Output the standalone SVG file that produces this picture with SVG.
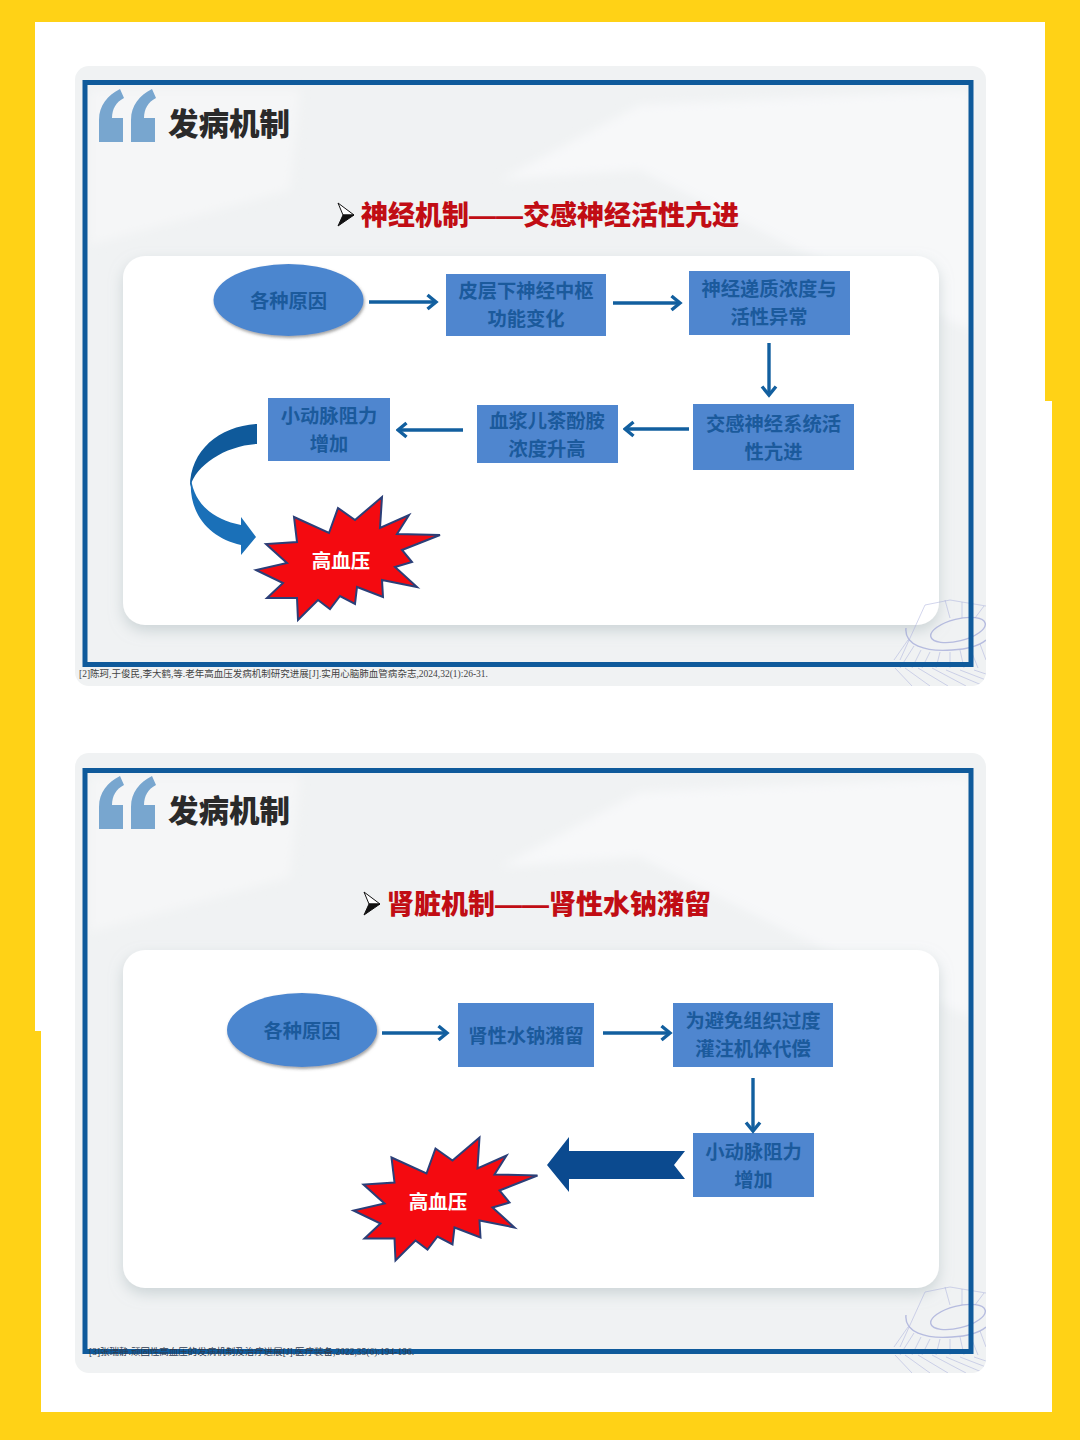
<svg xmlns="http://www.w3.org/2000/svg" xmlns:xlink="http://www.w3.org/1999/xlink" width="1080" height="1440" viewBox="0 0 1080 1440">
<style>
text{font-family:"Noto Sans CJK SC","Noto Sans",sans-serif;font-weight:700;text-anchor:middle}
.box{fill:#4f86cf}
.ell{fill:#4c86cf;filter:url(#ns)}
.bt{fill:#1b5a9c;font-size:19.3px;font-weight:700}
.wt{fill:#fff;font-size:19.5px}
.h1{fill:#2a2a2a;font-size:30.5px;text-anchor:start;font-weight:900}
.h2{fill:#c10d14;font-size:27px;text-anchor:start;font-weight:900}
.dash{font-family:"Liberation Sans",sans-serif;font-weight:700}
.cite{fill:#444;font-size:9.5px;font-weight:400;text-anchor:start;font-family:"Liberation Serif","Noto Sans CJK SC",serif}
.conn{stroke:#125f9f;stroke-width:3.4;fill:none;marker-end:url(#ah)}
.frame{fill:none;stroke:#0f5a9b;stroke-width:5}
.outer{fill:#f0f2f3}
.card{fill:#fff;filter:url(#cs)}
.q{fill:#78a6cf}
.burst{fill:#f40a10;stroke:#2b3f78;stroke-width:2}
.sp{fill:none;stroke:#a6abdb;stroke-width:.9;opacity:.55}
.sp2{fill:none;stroke:#8f97d2;stroke-width:1.4;opacity:.6}
</style>
<defs>
<marker id="ah" markerUnits="userSpaceOnUse" markerWidth="14" markerHeight="18" refX="11.5" refY="9" orient="auto"><path d="M3,2 L11.5,9 L3,16" fill="none" stroke="#125f9f" stroke-width="3.4"/></marker>
<filter id="ns" x="-20%" y="-20%" width="140%" height="150%"><feDropShadow dx="1" dy="2" stdDeviation="1.5" flood-color="#555" flood-opacity=".55"/></filter>
<filter id="cs" x="-5%" y="-5%" width="110%" height="115%"><feDropShadow dx="0" dy="6" stdDeviation="7" flood-color="#a9b8bc" flood-opacity=".5"/></filter>
<filter id="soft"><feGaussianBlur stdDeviation="5"/></filter>
<clipPath id="c1"><rect x="75" y="66" width="911" height="620" rx="14"/></clipPath>
<polygon id="star" points="382,497 380,528 409,515 397,534 440,535 402,550 412,562 395,567 417,587 382,580 383,597 357,587 355,604 340,596 330,609 318,600 298,620 297,598 267,598 283,583 256,570 287,563 266,544 297,542 294,517 329,533 338,508 355,520"/>
<g id="quote"><path class="q" d="M99,142 V120 C99,105 108,95 120,89 L124,98 C116,102 112,109 112,118 H123 V142 Z"/><path class="q" d="M131,142 V120 C131,105 140,95 152,89 L156,98 C148,102 144,109 144,118 H155 V142 Z"/></g>
<g id="bullet"><polygon points="338,203 354,215 343,215" fill="#fff" stroke="#111" stroke-width="1"/><polygon points="338,226 354,215 343,215" fill="#111" stroke="#111" stroke-width="1"/></g>
<g id="decor">
<polygon points="500,180 640,105 970,90 970,330 800,250 640,170" fill="#f7f8f9" filter="url(#soft)"/>
<polygon points="90,90 300,90 290,190 90,245" fill="#f5f6f7" filter="url(#soft)"/>
</g>
<g id="spiral" clip-path="url(#c1)">
<ellipse class="sp2" cx="958" cy="630" rx="28" ry="11" transform="rotate(-14 958 630)"/>
<path class="sp2" d="M906,628 C904,645 925,652 952,650 C968,649 980,645 986,640"/>
<path class="sp" d="M900,660 L925,605 L950,600 L986,606 M908,640 L894,660 M914,646 L900,668 M921,650 L912,668 M930,652 L922,668 M940,652 L936,668 M950,652 L950,668 M960,650 L964,668 M970,648 L978,668 M980,644 L986,660 M950,618 L945,600 M962,618 L962,602 M975,618 L984,606 M895,668 L912,686 M905,668 L930,686 M918,668 L948,686 M932,668 L966,686 M946,670 L984,686 M960,670 L986,680 M974,670 L986,674"/>
</g>
</defs>

<rect id="background" width="1080" height="1440" fill="#ffd216"/>
<polygon id="page" points="35,22 1045,22 1045,401 1052,401 1052,1412 41,1412 41,1031 35,1031" fill="#fff"/>

<g id="slide1">
<rect class="outer" x="75" y="66" width="911" height="620" rx="14"/>
<use xlink:href="#decor"/>
<rect class="card" x="123" y="256" width="816" height="369" rx="22"/>
<use xlink:href="#spiral"/>
<rect class="frame" x="85" y="82.500" width="886" height="582"/>
<use xlink:href="#quote"/>
<text class="h1" x="168" y="135">发病机制</text>
<use xlink:href="#bullet"/>
<text class="h2" x="361" y="225">神经机制<tspan class="dash">——</tspan>交感神经活性亢进</text>
<g id="s1-cause"><ellipse class="ell" cx="288.500" cy="300" rx="75" ry="36"/><text class="bt" x="288.500" y="308">各种原因</text></g>
<g id="s1-n1"><rect class="box" x="446" y="274" width="160" height="62"/><text class="bt" x="526" y="298">皮层下神经中枢</text><text class="bt" x="526" y="326">功能变化</text></g>
<g id="s1-n2"><rect class="box" x="689" y="271" width="161" height="64"/><text class="bt" x="769" y="296">神经递质浓度与</text><text class="bt" x="769" y="324">活性异常</text></g>
<g id="s1-n3"><rect class="box" x="693" y="404" width="161" height="66"/><text class="bt" x="773.500" y="431">交感神经系统活</text><text class="bt" x="773.500" y="459">性亢进</text></g>
<g id="s1-n4"><rect class="box" x="477" y="405" width="141" height="58"/><text class="bt" x="547" y="428">血浆儿茶酚胺</text><text class="bt" x="547" y="456">浓度升高</text></g>
<g id="s1-n5"><rect class="box" x="268" y="398" width="122" height="63"/><text class="bt" x="329" y="423">小动脉阻力</text><text class="bt" x="329" y="451">增加</text></g>
<g id="s1-htn"><use xlink:href="#star" class="burst"/><text class="wt" x="341" y="568">高血压</text></g>
<g id="s1-connectors">
<line class="conn" x1="369" y1="302" x2="436" y2="302"/>
<line class="conn" x1="613" y1="303" x2="680" y2="303"/>
<line class="conn" x1="769" y1="343" x2="769" y2="395"/>
<line class="conn" x1="689" y1="429" x2="625" y2="429"/>
<line class="conn" x1="463" y1="430" x2="398" y2="430"/>
<path d="M257,424 C220,426 190,450 190,487 C196,465 225,446 257,444 Z" fill="#0f5a9b"/>
<path d="M191,478 C194,505 215,520 241,525 L241,517 L256,537 L241,555 L241,545 C210,538 188,515 191,478 Z" fill="#1a70b8"/>
</g>
<text class="cite" x="79" y="677" textLength="409" lengthAdjust="spacingAndGlyphs">[2]陈珂,于俊民,李大鹤,等.老年高血压发病机制研究进展[J].实用心脑肺血管病杂志,2024,32(1):26-31.</text>
</g>

<g id="slide2">
<rect class="outer" x="75" y="753" width="911" height="620" rx="14"/>
<use xlink:href="#decor" y="687"/>
<rect class="card" x="123" y="950" width="816" height="338" rx="22"/>
<use xlink:href="#spiral" y="687"/>
<rect class="frame" x="85" y="770.500" width="886" height="581"/>
<use xlink:href="#quote" y="687"/>
<text class="h1" x="168" y="822">发病机制</text>
<use xlink:href="#bullet" x="26" y="689"/>
<text class="h2" x="387" y="914">肾脏机制<tspan class="dash">——</tspan>肾性水钠潴留</text>
<g id="s2-cause"><ellipse class="ell" cx="302" cy="1030" rx="75" ry="37"/><text class="bt" x="302" y="1038">各种原因</text></g>
<g id="s2-n1"><rect class="box" x="458" y="1003" width="136" height="64"/><text class="bt" x="526" y="1043">肾性水钠潴留</text></g>
<g id="s2-n2"><rect class="box" x="673" y="1003" width="160" height="64"/><text class="bt" x="753" y="1028">为避免组织过度</text><text class="bt" x="753" y="1056">灌注机体代偿</text></g>
<g id="s2-n3"><rect class="box" x="693" y="1133" width="121" height="64"/><text class="bt" x="753.500" y="1159">小动脉阻力</text><text class="bt" x="753.500" y="1187">增加</text></g>
<g id="s2-htn"><use xlink:href="#star" class="burst" x="97.500" y="640.500"/><text class="wt" x="438" y="1209">高血压</text></g>
<g id="s2-connectors">
<line class="conn" x1="382" y1="1033" x2="447" y2="1033"/>
<line class="conn" x1="603" y1="1033" x2="670" y2="1033"/>
<line class="conn" x1="753" y1="1078" x2="753" y2="1131"/>
<polygon points="547,1165 569,1137 569,1151 685,1151 674,1165 685,1179 569,1179 569,1192" fill="#0b4a8f"/>
</g>
<text class="cite" x="89" y="1355" textLength="325" lengthAdjust="spacingAndGlyphs" style="fill:#2c3a50">[3]张瑞静.顽固性高血压的发病机制及治疗进展[J].医疗装备,2022,35(6):194-196.</text>
</g>
</svg>
